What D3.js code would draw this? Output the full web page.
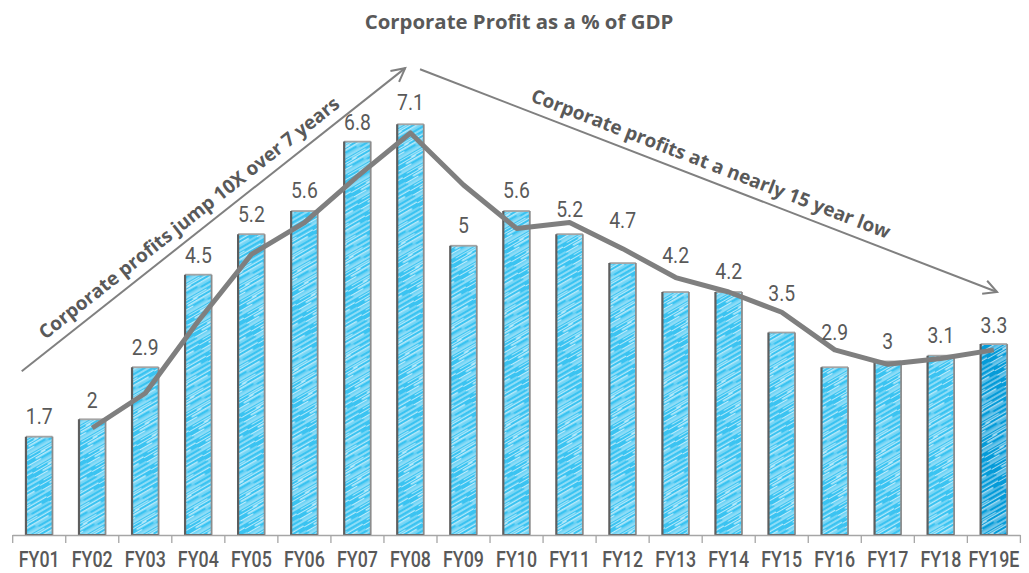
<!DOCTYPE html>
<html>
<head>
<meta charset="utf-8">
<script src="https://cdn.jsdelivr.net/npm/d3@7/dist/d3.min.js"></script>
<style>
  html, body { margin: 0; padding: 0; background: #ffffff; }
  svg { display: block; }
</style>
</head>
<body>
<svg id="chart" width="1029" height="573"></svg>
<script>
// Corporate profit as a share of GDP, fiscal years
const categories = ["FY01","FY02","FY03","FY04","FY05","FY06","FY07","FY08","FY09","FY10",
                    "FY11","FY12","FY13","FY14","FY15","FY16","FY17","FY18","FY19E"];
const profitPct = [1.7, 2, 2.9, 4.5, 5.2, 5.6, 6.8, 7.1, 5, 5.6,
                   5.2, 4.7, 4.2, 4.2, 3.5, 2.9, 3, 3.1, 3.3];
// two-year average trend line (no value for the first year)
const trendPct = [null, 1.85, 2.45, 3.7, 4.85, 5.4, 6.2, 6.95, 6.05, 5.3,
                  5.4, 4.95, 4.45, 4.2, 3.85, 3.2, 2.95, 3.05, 3.2];
const estimateCategories = ["FY19E"];
const titleText = "Corporate Profit as a % of GDP";
const noteRise = "Corporate profits jump 10X over 7 years";
const noteFall = "Corporate profits at a nearly 15 year low";

// layout: how far (px) each value label sits above its bar, clearing the trend line
const labelLift = [13, 11, 12, 12, 12.5, 13, 11.6, 14, 12.5, 12.7,
                   17, 35, 29, 12.7, 32, 27, 12, 13, 11.4];

const baseY = 535;
const svg = d3.select("#chart");
const grey = "#595959";

const x = d3.scaleBand().domain(categories).range([12.7, 1020.4])
  .paddingInner(0.5).paddingOuter(0.25);
const y = d3.scaleLinear().domain([0, 8]).range([baseY, baseY - 8 * 57.85]);
const cx = c => x(c) + x.bandwidth() / 2;

// ---- sketchy hatch fills ----
const defs = svg.append("defs");
function hatch(id, base) {
  const p = defs.append("pattern").attr("id", id)
    .attr("patternUnits", "userSpaceOnUse")
    .attr("width", 52).attr("height", 14)
    .attr("patternTransform", "rotate(-30)");
  p.append("rect").attr("width", 52).attr("height", 14).attr("fill", base);
  const strokes = [
    [0, 52, 1.0, 1.0], [6, 34, 3.4, 0.7], [18, 52, 5.2, 1.1], [0, 22, 6.6, 0.8],
    [10, 44, 8.8, 1.2], [28, 52, 11.0, 0.7], [0, 14, 11.6, 0.9], [2, 30, 13.1, 0.6]
  ];
  strokes.forEach(([a, b, yy, w]) => {
    p.append("line").attr("x1", a).attr("x2", b).attr("y1", yy).attr("y2", yy)
      .attr("stroke", "#ffffff").attr("stroke-width", w)
      .attr("stroke-linecap", "round").attr("opacity", 0.85);
  });
}
hatch("hatchBlue", "#3ac3f1");
hatch("hatchDeep", "#059bd8");

// ---- title ----
svg.append("text")
  .attr("x", 519).attr("y", 29)
  .attr("text-anchor", "middle")
  .attr("font-family", "'Open Sans', sans-serif")
  .attr("font-weight", 700).attr("font-size", 20.4)
  .attr("fill", grey)
  .text(titleText);

// ---- bars ----
const bars = svg.append("g");
categories.forEach((c, i) => {
  const x0 = x(c), w = x.bandwidth(), top = y(profitPct[i]);
  const isEst = estimateCategories.includes(c);
  bars.append("rect")
    .attr("x", x0).attr("y", top).attr("width", w).attr("height", baseY - top)
    .attr("fill", isEst ? "url(#hatchDeep)" : "url(#hatchBlue)");
  bars.append("line")
    .attr("x1", x0).attr("x2", x0 + w).attr("y1", top).attr("y2", top)
    .attr("stroke", "#a4a4a4").attr("stroke-width", 1.8);
  bars.append("line")
    .attr("x1", x0 + w).attr("x2", x0 + w).attr("y1", top).attr("y2", baseY)
    .attr("stroke", "#8c8c8c").attr("stroke-width", 1.8);
  bars.append("path")
    .attr("d", `M${x0},${top}V${baseY}H${x0 + w}`)
    .attr("fill", "none").attr("stroke", "#5e5e5e").attr("stroke-width", 2.2);
});

// ---- category axis ----
const step = x.step(), gap = step - x.bandwidth();
const bounds = categories.map(c => x(c) - gap / 2)
  .concat([x(categories[categories.length - 1]) + x.bandwidth() + gap / 2]);
const axis = svg.append("g");
axis.append("line")
  .attr("x1", bounds[0]).attr("x2", bounds[bounds.length - 1])
  .attr("y1", baseY + 0.5).attr("y2", baseY + 0.5)
  .attr("stroke", "#a6a6a6").attr("stroke-width", 1.5);
bounds.forEach(b => {
  axis.append("line").attr("x1", b).attr("x2", b)
    .attr("y1", baseY).attr("y2", baseY + 8)
    .attr("stroke", "#a6a6a6").attr("stroke-width", 1.3);
});
categories.forEach(c => {
  axis.append("text")
    .attr("transform", `translate(${cx(c)},566.5) scale(0.81,1)`)
    .attr("text-anchor", "middle")
    .attr("font-family", "Roboto, sans-serif").attr("font-size", 22)
    .attr("font-weight", 500)
    .attr("fill", grey)
    .text(c);
});

// ---- trend line ----
const line = d3.line()
  .defined(d => d.v != null)
  .x(d => cx(d.c)).y(d => y(d.v));
const trendData = categories.map((c, i) => ({ c, v: trendPct[i] }));
svg.append("path")
  .datum(trendData)
  .attr("d", line)
  .attr("fill", "none").attr("stroke", "#7f7f7f")
  .attr("stroke-width", 5).attr("stroke-linejoin", "round");

// ---- value labels ----
categories.forEach((c, i) => {
  const yy = y(profitPct[i]) - labelLift[i];
  svg.append("text")
    .attr("transform", `translate(${cx(c)},${yy}) scale(0.88,1)`)
    .attr("text-anchor", "middle")
    .attr("font-family", "Roboto, sans-serif").attr("font-size", 22)
    .attr("fill", grey)
    .text(profitPct[i]);
});

// ---- annotation arrows ----
function pt(c, frac, v) { return [cx(c) + frac * step, y(v)]; }
function arrow(p0, p1, label, offset) {
  const g = svg.append("g");
  const [x0, y0] = p0, [x1, y1] = p1;
  const ang = Math.atan2(y1 - y0, x1 - x0);
  g.append("line").attr("x1", x0).attr("y1", y0).attr("x2", x1).attr("y2", y1)
    .attr("stroke", "#808080").attr("stroke-width", 2);
  const len = 15, spread = Math.PI / 6.5;
  const a1 = ang + Math.PI - spread, a2 = ang + Math.PI + spread;
  g.append("path")
    .attr("d", `M${x1 + len * Math.cos(a1)},${y1 + len * Math.sin(a1)}L${x1},${y1}L${x1 + len * Math.cos(a2)},${y1 + len * Math.sin(a2)}`)
    .attr("fill", "none").attr("stroke", "#808080").attr("stroke-width", 2);
  // label centred along the arrow, sitting above it
  const mx = (x0 + x1) / 2, my = (y0 + y1) / 2;
  const nx = Math.sin(ang), ny = -Math.cos(ang);
  const tx = mx + nx * offset.d + Math.cos(ang) * offset.t;
  const ty = my + ny * offset.d + Math.sin(ang) * offset.t;
  g.append("text")
    .attr("transform", `translate(${tx},${ty}) rotate(${ang * 180 / Math.PI})`)
    .attr("text-anchor", "middle")
    .attr("font-family", "'Open Sans', sans-serif")
    .attr("font-weight", 700).attr("font-size", 19)
    .attr("fill", grey)
    .text(label);
}
arrow(pt("FY01", -0.33, 2.83), pt("FY08", -0.1, 8.07), noteRise, { d: 10, t: -18 });
arrow(pt("FY08", 0.18, 8.05), pt("FY19E", 0.06, 4.2), noteFall, { d: 10, t: -4 });
</script>
</body>
</html>
